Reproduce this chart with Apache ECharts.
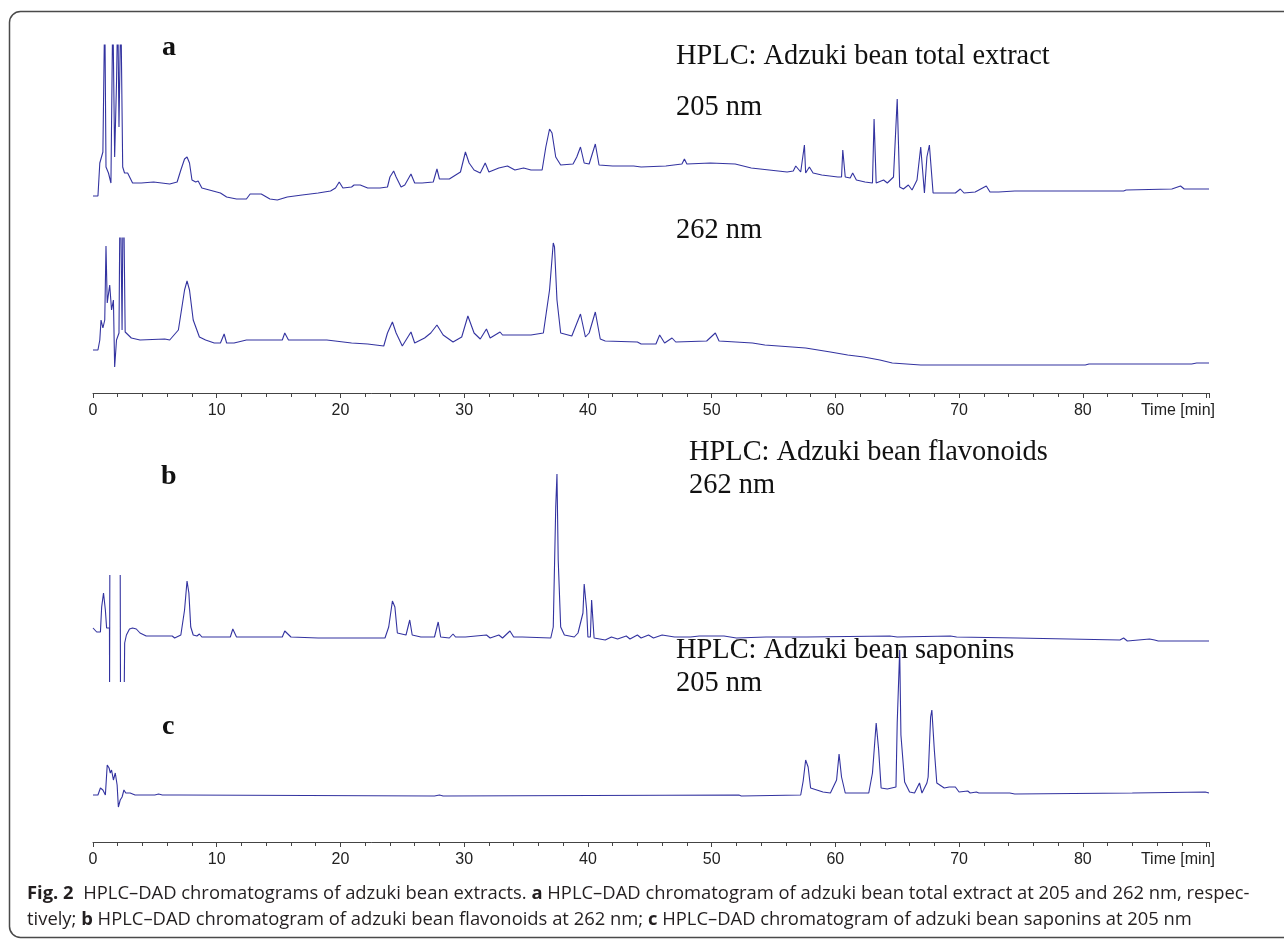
<!DOCTYPE html>
<html>
<head>
<meta charset="utf-8">
<title>HPLC–DAD chromatograms of adzuki bean extracts</title>
<script src="https://cdn.jsdelivr.net/npm/echarts/dist/echarts.min.js"></script>
<style>
  html, body { margin: 0; padding: 0; background: #fff; }
  #chart { width: 1284px; height: 940px; }
</style>
</head>
<body>
<div id="chart"></div>
<script>
// [retention time (min), detector response (a.u.)]
const totalExtract205 = [
  [0, 9], [0.4, 9], [0.55, 42], [0.8, 53], [0.95, 200], [1.05, 38], [1.25, 32], [1.45, 22], [1.6, 200],
  [1.75, 48], [1.9, 122], [2.0, 200], [2.1, 78], [2.25, 200], [2.4, 38], [2.55, 32], [2.8, 32], [3.2, 22],
  [3.9, 22], [4.9, 23], [6.2, 21], [6.8, 23], [7.1, 35], [7.4, 46], [7.6, 48], [7.8, 42], [8.0, 25],
  [8.3, 23], [8.5, 24], [8.8, 17], [9.7, 14], [10.3, 12], [10.8, 8], [11.6, 6], [12.4, 6], [12.7, 11],
  [13.6, 11], [14.3, 6], [14.9, 5], [15.7, 8], [16.9, 10], [18.2, 12], [19.2, 14], [19.6, 17], [19.9, 23],
  [20.2, 17], [20.9, 18], [21.1, 20], [21.6, 20], [22.2, 17], [23.2, 17], [23.8, 18], [24.0, 28], [24.3, 34],
  [24.5, 28], [24.9, 18], [25.2, 20], [25.7, 31], [26.0, 22], [26.6, 22], [27.5, 23], [27.8, 36], [28.0, 26],
  [28.8, 26], [29.7, 33], [30.1, 53], [30.4, 42], [30.8, 35], [31.3, 32], [31.7, 42], [32.0, 33], [32.8, 37],
  [33.5, 39], [34.1, 35], [34.8, 37], [35.4, 35], [36.3, 35], [36.6, 58], [36.9, 76], [37.1, 72], [37.4, 48],
  [37.8, 40], [38.8, 41], [39.1, 48], [39.4, 58], [39.7, 42], [40.1, 41], [40.6, 61], [40.9, 40], [42.0, 39],
  [43.7, 39], [44.3, 38], [46.3, 39], [47.6, 41], [47.8, 46], [48.0, 41], [49.9, 42], [51.9, 41], [53.2, 37],
  [56.1, 33], [56.6, 34], [56.8, 39], [57.2, 33], [57.5, 60], [57.6, 32], [57.9, 38], [58.2, 32], [58.9, 30],
  [60.2, 28], [60.5, 28], [60.6, 55], [60.8, 28], [61.2, 27], [61.4, 32], [61.7, 25], [62.4, 23], [63.0, 22],
  [63.13, 86], [63.3, 22], [63.9, 25], [64.2, 22], [64.7, 28], [65.0, 106], [65.2, 18], [65.5, 16], [65.9, 20],
  [66.2, 15], [66.6, 25], [66.9, 58], [67.2, 12], [67.4, 48], [67.6, 60], [67.9, 12], [69.0, 12], [69.7, 12],
  [70.1, 16], [70.4, 12], [71.3, 13], [72.2, 19], [72.5, 13], [73.2, 13], [74.5, 14], [83.3, 14], [83.5, 15],
  [87.2, 16], [87.9, 19], [88.2, 16], [90.2, 16]
]

const totalExtract262 = [
  [0, 18], [0.4, 18], [0.55, 28], [0.65, 48], [0.8, 40], [0.95, 48], [1.05, 122], [1.15, 65], [1.35, 83],
  [1.5, 58], [1.65, 68], [1.75, 1], [1.9, 28], [2.1, 35], [2.2, 200], [2.35, 38], [2.45, 200], [2.6, 36],
  [3.1, 30], [3.8, 28], [5.8, 29], [6.2, 28], [6.9, 38], [7.4, 78], [7.6, 87], [7.8, 78], [8.1, 48], [8.6, 31],
  [9.1, 28], [9.8, 25], [10.3, 25], [10.6, 34], [10.8, 25], [11.4, 25], [12.4, 28], [15.3, 28], [15.5, 35],
  [15.8, 28], [18.9, 28], [20.9, 25], [22.2, 24], [23.5, 22], [23.8, 35], [24.2, 46], [24.5, 35], [25.0, 22],
  [25.3, 28], [25.7, 36], [26.0, 25], [26.8, 30], [27.3, 35], [27.8, 43], [28.3, 33], [29.1, 26], [29.8, 31],
  [30.3, 52], [30.8, 35], [31.3, 29], [31.8, 39], [32.1, 30], [32.9, 36], [33.1, 33], [34.5, 33], [35.4, 33],
  [36.4, 35], [36.9, 78], [37.2, 125], [37.3, 121], [37.5, 68], [37.8, 35], [38.7, 32], [39.4, 54], [39.8, 31],
  [40.1, 35], [40.6, 56], [41.0, 29], [41.4, 27], [44.0, 26], [44.3, 24], [45.5, 24], [45.8, 33], [46.2, 25],
  [46.8, 30], [47.1, 26], [49.6, 27], [50.3, 35], [50.6, 27], [53.3, 25], [54.3, 23], [57.6, 20], [59.6, 16],
  [61.0, 13], [62.3, 11], [63.6, 8], [64.6, 5], [66.9, 3], [80.2, 3], [80.5, 4], [88.8, 4], [89.2, 5], [90.2, 5]
]

const flavonoids262 = [
  [0, 62], [0.3, 58], [0.6, 58], [0.7, 83], [0.85, 97], [1.0, 80], [1.1, 62], [1.33, 62], [1.34, 8], [1.36, 115],
  [1.37, null], [2.2, 115], [2.22, 8], [2.3, null], [2.53, 8], [2.56, 47], [2.7, 55], [2.95, 61], [3.2, 62],
  [3.5, 61], [3.8, 57], [4.3, 54], [6.4, 54], [6.6, 52], [7.1, 55], [7.4, 80], [7.6, 109], [7.75, 97], [7.9, 63],
  [8.1, 55], [8.4, 54], [8.6, 56], [8.8, 53], [9.6, 53], [11.1, 53], [11.3, 61], [11.6, 53], [15.3, 53],
  [15.5, 59], [16.0, 53], [18.2, 52], [23.6, 52], [23.9, 63], [24.2, 89], [24.4, 83], [24.6, 57], [25.3, 55],
  [25.6, 70], [25.8, 55], [26.5, 53], [27.6, 53], [27.9, 68], [28.1, 53], [28.8, 52], [29.1, 56], [29.3, 53],
  [30.1, 53], [31.8, 55], [32.1, 52], [32.8, 55], [33.1, 52], [33.7, 59], [34.0, 53], [34.7, 53], [37.0, 52],
  [37.2, 63], [37.4, 183], [37.5, 216], [37.6, 130], [37.8, 63], [38.1, 55], [38.9, 53], [39.2, 57], [39.6, 77],
  [39.7, 106], [39.9, 80], [40.0, 53], [40.2, 53], [40.3, 90], [40.4, 90], [40.5, 52], [41.4, 50], [41.9, 53],
  [42.4, 51], [43.1, 54], [43.4, 51], [44.0, 55], [44.3, 52], [44.9, 55], [45.3, 52], [46.0, 55], [47.0, 53],
  [48.3, 53], [49.0, 54], [51.0, 54], [52.0, 52], [54.4, 53], [57.7, 53], [64.4, 54], [65.0, 53], [69.3, 54],
  [69.8, 53], [74.7, 52], [83.0, 50], [83.3, 52], [83.6, 49], [85.4, 51], [85.8, 50], [86.1, 49], [90.2, 49]
]

const saponins205 = [
  [0, 20], [0.4, 20], [0.6, 27], [0.8, 25], [1.0, 20], [1.15, 50], [1.3, 47], [1.4, 42], [1.5, 45], [1.65, 35],
  [1.8, 42], [1.95, 30], [2.05, 8], [2.2, 15], [2.35, 18], [2.5, 25], [2.65, 22], [3.0, 22], [3.4, 20], [5.0, 20],
  [5.3, 21], [5.6, 20], [7.0, 20], [7.1, 19], [27.6, 19], [28.0, 20], [28.3, 19], [52.2, 20], [52.4, 19],
  [57.2, 20], [57.4, 34], [57.6, 55], [57.8, 48], [58.0, 27], [58.5, 25], [59.0, 23], [59.6, 22], [60.1, 35],
  [60.3, 61], [60.5, 38], [60.8, 22], [62.7, 22], [63.0, 42], [63.3, 92], [63.5, 65], [63.7, 27], [64.2, 26],
  [64.9, 28], [65.0, 92], [65.2, 165], [65.3, 80], [65.6, 33], [66.0, 23], [66.4, 22], [66.8, 32], [67.0, 22],
  [67.4, 32], [67.5, 38], [67.7, 98], [67.8, 105], [68.0, 65], [68.2, 32], [68.8, 27], [69.2, 28], [69.7, 28],
  [70.0, 23], [70.7, 24], [70.9, 22], [71.4, 23], [71.6, 22], [74.1, 22], [74.5, 21], [84.0, 22], [89.9, 23],
  [90.2, 22]
]

const timeTicks = [0, 10, 20, 30, 40, 50, 60, 70, 80]
const timeName = 'Time [min]'

const X_MAX = 90.2
const lineColor = '#3333a0'
const serif = '"Liberation Serif", "Times New Roman", serif'
const sans = '"Liberation Sans", Arial, sans-serif'
const captionFont = '"Open Sans", "Noto Sans", sans-serif'

// each trace gets its own strip, the two time axes sit in thin strips of their own
const traces = [
  { data: totalExtract205, top: 45, height: 160 },
  { data: totalExtract262, top: 238, height: 130 },
  { data: flavonoids262, top: 450, height: 240 },
  { data: saponins205, top: 640, height: 175 }
]
const axisRows = [392, 841]

const grids = []
const xAxes = []
const yAxes = []
const series = []

traces.forEach((t, i) => {
  grids.push({ left: 93, right: 75, top: t.top, height: t.height })
  xAxes.push({ gridIndex: i, type: 'value', min: 0, max: X_MAX, show: false })
  yAxes.push({ gridIndex: i, type: 'value', min: 0, max: t.height, show: false })
  series.push({
    type: 'line',
    xAxisIndex: i,
    yAxisIndex: i,
    data: t.data,
    symbol: 'none',
    clip: true,
    silent: true,
    lineStyle: { color: lineColor, width: 1.1 }
  })
})

axisRows.forEach((row) => {
  const gi = grids.length
  grids.push({ left: 93, right: 75, top: row, height: 1 })
  xAxes.push({
    gridIndex: gi,
    type: 'value',
    min: 0,
    max: X_MAX,
    interval: 10,
    name: timeName,
    nameLocation: 'end',
    nameGap: 6,
    nameTextStyle: {
      fontFamily: sans,
      fontSize: 16,
      color: '#222',
      align: 'right',
      verticalAlign: 'top',
      padding: [10, 0, 0, 0]
    },
    splitLine: { show: false },
    axisLine: { show: true, lineStyle: { color: '#444', width: 1 } },
    axisTick: { show: true, inside: false, length: 5, lineStyle: { color: '#444' } },
    minorTick: { show: true, splitNumber: 5, length: 4, lineStyle: { color: '#444' } },
    axisLabel: {
      fontFamily: sans,
      fontSize: 16,
      color: '#222',
      margin: 10,
      formatter: (v) => (timeTicks.includes(v) ? String(v) : '')
    }
  })
  yAxes.push({ gridIndex: gi, type: 'value', min: 0, max: 1, show: false })
})

function serifText(text, x, y, bold) {
  return {
    type: 'text',
    x: x,
    y: y,
    silent: true,
    style: {
      text: text,
      fontFamily: serif,
      fontSize: bold ? 28 : 28.4,
      fontWeight: bold ? 'bold' : 'normal',
      fill: '#111',
      align: 'left',
      verticalAlign: 'middle'
    }
  }
}

const captionRich = {
  b: { fontFamily: captionFont, fontSize: 18.4, fontWeight: 'bold', fill: '#231f20' }
}
function captionLine(text, y) {
  return {
    type: 'text',
    x: 27,
    y: y,
    silent: true,
    style: {
      text: text,
      fontFamily: captionFont,
      fontSize: 18.4,
      fill: '#231f20',
      align: 'left',
      verticalAlign: 'middle',
      rich: captionRich
    }
  }
}

const chart = echarts.init(document.getElementById('chart'))
chart.setOption({
  animation: false,
  backgroundColor: '#fff',
  grid: grids,
  xAxis: xAxes,
  yAxis: yAxes,
  series: series,
  graphic: [
    {
      type: 'rect',
      silent: true,
      shape: { x: 9.5, y: 11.5, width: 1320, height: 926, r: 11 },
      style: { fill: 'none', stroke: '#4a4a4a', lineWidth: 1.5 }
    },
    serifText('a', 162, 48, true),
    serifText('b', 161, 477, true),
    serifText('c', 162, 727, true),
    serifText('HPLC: Adzuki bean total extract', 676, 57),
    serifText('205 nm', 676, 108),
    serifText('262 nm', 676, 231),
    serifText('HPLC: Adzuki bean flavonoids', 689, 453),
    serifText('262 nm', 689, 486),
    serifText('HPLC: Adzuki bean saponins', 676, 651),
    serifText('205 nm', 676, 684),
    captionLine('{b|Fig. 2}  HPLC–DAD chromatograms of adzuki bean extracts. {b|a} HPLC–DAD chromatogram of adzuki bean total extract at 205 and 262 nm, respec-', 894),
    captionLine('tively; {b|b} HPLC–DAD chromatogram of adzuki bean flavonoids at 262 nm; {b|c} HPLC–DAD chromatogram of adzuki bean saponins at 205 nm', 920)
  ]
})
</script>
</body>
</html>
